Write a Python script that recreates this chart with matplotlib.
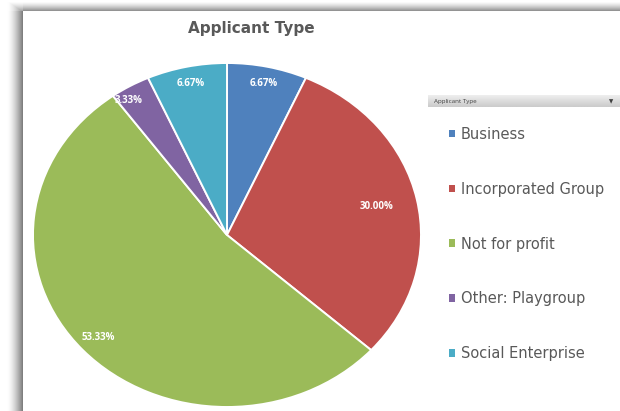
import numpy as np
import matplotlib
matplotlib.use("Agg")
import matplotlib.pyplot as plt

plt.rcParams["font.family"] = ["Open Sans", "DejaVu Sans"]

# applicant counts by type (share of 30 applications)
categories = ["Business", "Incorporated Group", "Not for profit",
              "Other: Playgroup", "Social Enterprise"]
shares = [6.67, 30.00, 53.33, 3.33, 6.67]
colors = ["#4F81BD", "#C0504D", "#9BBB59", "#8064A2", "#4BACC6"]

# label placement per slice: radius fraction and angle override (None = mid-angle)
label_radius = [0.90, 0.79, 0.89, 0.93, 0.90]
label_angle = [None, None, -138, 123, None]

W, H = 620, 411
fig = plt.figure(figsize=(W / 100, H / 100), dpi=100)

# panel with soft shadow on the top and left edges
bg = fig.add_axes([0, 0, 1, 1])
bg.set_axis_off()
xs = np.arange(W)[None, :]
ys = np.arange(H)[:, None]
px, py = 23, 12
dx = np.clip(px - xs, 0, None).astype(float)
dy = np.clip(py - ys, 0, None).astype(float)
shade_l = 0.5 * np.clip(1 - (dx - 1) / 15, 0, 1) ** 1.5
shade_t = 0.42 * np.clip(1 - (dy - 1) / 9, 0, 1) ** 1.4
shade = np.zeros((H, W))
shade = np.where((dx > 0) & (dy == 0), shade_l, shade)
shade = np.where((dy > 0) & (dx == 0), shade_t, shade)
shade = np.where((dx > 0) & (dy > 0), np.minimum(shade_l, shade_t) * 0.8, shade)
img = 1 - shade
bg.imshow(np.dstack([img, img, img]), extent=(0, W, H, 0), aspect="auto")
bg.set_xlim(0, W)
bg.set_ylim(H, 0)

# pie (stretched horizontally)
cx, cy, rx, ry = 227, 235, 194, 172
ax = fig.add_axes([(cx - rx) / W, (H - cy - ry) / H, 2 * rx / W, 2 * ry / H])
wedges, _ = ax.pie(shares, colors=colors, startangle=90, counterclock=False,
                   wedgeprops=dict(edgecolor="white", linewidth=1.4))
ax.set_aspect("auto")
ax.set_xlim(-1, 1)
ax.set_ylim(-1, 1)
ax.set_axis_off()

for w, val, r, ang in zip(wedges, shares, label_radius, label_angle):
    a = np.deg2rad((w.theta1 + w.theta2) / 2 if ang is None else ang)
    ax.text(r * np.cos(a), r * np.sin(a), f"{val:.2f}%", color="white",
            fontsize=7, fontweight="bold", ha="center", va="center")

fig.text(251 / W, 1 - 29 / H, "Applicant Type", fontsize=11, fontweight="bold",
         color="#595959", ha="center", va="center", family="DejaVu Sans")

# field dropdown above the legend
bar = fig.add_axes([428 / W, 1 - 107 / H, 192 / W, 12 / H])
bar.imshow(np.linspace(0.93, 0.80, 12)[:, None] * np.ones((1, 10)), cmap="gray",
           vmin=0, vmax=1, aspect="auto", extent=(0, 1, 0, 1))
bar.set_axis_off()
bar.text(0.03, 0.5, "Applicant Type", fontsize=4.5, color="#404040", va="center")
bar.text(0.955, 0.45, "\u25BC", fontsize=4, color="#404040", va="center",
         ha="center", family="DejaVu Sans")

leg = fig.legend(wedges, categories, loc="center left",
                 bbox_to_anchor=(449 / W, 1 - 244 / H), frameon=False,
                 prop=dict(family="DejaVu Sans", size=10.5), labelcolor="#595959",
                 labelspacing=2.74, handlelength=0.43, handleheight=0.43,
                 handletextpad=0.4, borderpad=0, borderaxespad=0)
for h in leg.legend_handles:
    h.set_edgecolor("none")

fig.savefig("out.png", dpi=100)
